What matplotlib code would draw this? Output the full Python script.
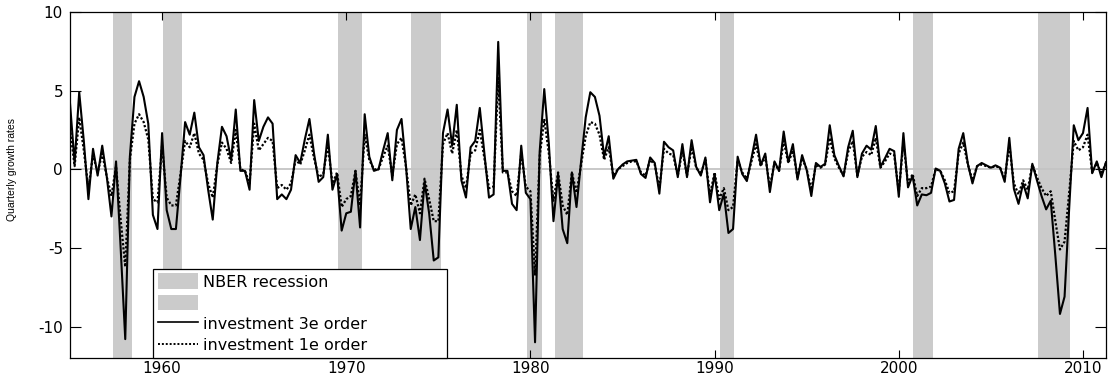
import numpy as np
import matplotlib
matplotlib.use("Agg")
import matplotlib.pyplot as plt
from matplotlib.patches import Patch
from matplotlib.lines import Line2D

plt.rcParams["axes.unicode_minus"] = False

# ---------------- data ----------------
start_year = 1955.0

invest_3e = [
    4.2, 0.4, 4.9, 1.8,        # 1955
    -1.9, 1.3, -0.4, 1.5,      # 1956
    -0.5, -3.0, 0.5, -5.0,     # 1957
    -10.8, 0.8, 4.6, 5.6,      # 1958
    4.6, 2.9, -2.9, -3.8,      # 1959
    2.3, -2.6, -3.8, -3.8,     # 1960
    -0.5, 3.0, 2.2, 3.6,       # 1961
    1.4, 0.9, -1.3, -3.2,      # 1962
    0.4, 2.7, 2.1, 0.6,        # 1963
    3.8, -0.1, -0.1, -1.3,     # 1964
    4.4, 1.8, 2.7, 3.3,        # 1965
    2.9, -1.9, -1.6, -1.9,     # 1966
    -1.3, 0.9, 0.4, 1.9,       # 1967
    3.2, 1.0, -0.8, -0.5,      # 1968
    2.2, -1.3, -0.3, -3.9,     # 1969
    -2.8, -2.7, -0.1, -3.7,    # 1970
    3.5, 0.8, -0.1, 0.0,       # 1971
    1.2, 2.3, -0.7, 2.5,       # 1972
    3.2, 0.1, -3.8, -2.4,      # 1973
    -4.5, -0.8, -2.8, -5.8,    # 1974
    -5.6, 2.3, 3.8, 1.5,       # 1975
    4.1, -0.7, -1.8, 1.4,      # 1976
    1.8, 3.9, 1.0, -1.8,       # 1977
    -1.6, 8.1, -0.1, -0.1,     # 1978
    -2.2, -2.6, 1.5, -1.5,     # 1979
    -1.9, -11.0, 1.1, 5.1,     # 1980
    1.6, -3.3, -0.3, -3.8,     # 1981
    -4.7, -0.2, -2.4, 0.5,     # 1982
    3.3, 4.9, 4.6, 3.4,        # 1983
    0.8, 2.1, -0.6, 0.0,       # 1984
    0.3, 0.5, 0.55, 0.6,       # 1985
    -0.3, -0.55, 0.75, 0.4,    # 1986
    -1.55, 1.75, 1.4, 1.2,     # 1987
    -0.5, 1.6, -0.5, 1.85,     # 1988
    0.15, -0.4, 0.75, -2.1,    # 1989
    -0.3, -2.6, -1.55, -4.05,  # 1990
    -3.8, 0.8, -0.3, -0.75,    # 1991
    0.7, 2.2, 0.25, 1.0,       # 1992
    -1.45, 0.5, -0.1, 2.4,     # 1993
    0.45, 1.6, -0.65, 0.9,     # 1994
    -0.05, -1.7, 0.4, 0.15,    # 1995
    0.35, 2.8, 0.9, 0.2,       # 1996
    -0.45, 1.4, 2.45, -0.5,    # 1997
    1.0, 1.5, 1.25, 2.75,      # 1998
    0.15, 0.7, 1.3, 1.15,      # 1999
    -1.75, 2.3, -1.15, -0.4,   # 2000
    -2.3, -1.6, -1.65, -1.5,   # 2001
    0.05, -0.1, -0.9, -2.05,   # 2002
    -1.95, 1.3, 2.3, 0.35,     # 2003
    -0.9, 0.2, 0.4, 0.25,      # 2004
    0.1, 0.25, 0.1, -0.8,      # 2005
    2.0, -1.25, -2.2, -0.9,    # 2006
    -1.85, 0.35, -0.7, -1.7,   # 2007
    -2.55, -2.0, -5.5, -9.2,   # 2008
    -8.1, -2.5, 2.8, 1.85,     # 2009
    2.3, 3.9, -0.25, 0.5,      # 2010
    -0.5, 0.45,                # 2011
]

invest_1e = [
    2.6, 0.2, 3.3, 1.2,        # 1955
    -1.2, 0.9, -0.2, 1.0,      # 1956
    -0.5, -1.7, 0.2, -3.2,     # 1957
    -6.2, 0.6, 2.9, 3.5,       # 1958
    3.0, 1.9, -1.9, -2.1,      # 1959
    1.5, -1.8, -2.3, -2.3,     # 1960
    -0.3, 1.8, 1.4, 2.3,       # 1961
    1.0, 0.6, -0.9, -1.8,      # 1962
    0.3, 1.7, 1.3, 0.4,        # 1963
    2.5, 0.0, -0.1, -0.9,      # 1964
    2.9, 1.2, 1.6, 2.0,        # 1965
    1.8, -1.2, -1.0, -1.3,     # 1966
    -0.9, 0.6, 0.3, 1.2,       # 1967
    2.2, 0.7, -0.5, -0.3,      # 1968
    1.5, -0.9, -0.2, -2.4,     # 1969
    -1.9, -1.7, -0.1, -2.3,    # 1970
    2.2, 0.6, 0.0, 0.0,        # 1971
    0.8, 1.5, -0.4, 1.6,       # 1972
    2.0, 0.1, -2.3, -1.6,      # 1973
    -2.8, -0.6, -1.9, -3.3,    # 1974
    -3.3, 1.6, 2.3, 1.0,       # 1975
    2.5, -0.4, -1.2, 1.0,      # 1976
    1.2, 2.5, 0.7, -1.2,       # 1977
    -1.1, 5.8, -0.2, -0.2,     # 1978
    -1.4, -1.7, 1.0, -1.1,     # 1979
    -1.4, -6.7, 0.8, 3.2,      # 1980
    1.0, -2.0, -0.2, -2.3,     # 1981
    -2.9, -0.2, -1.5, 0.3,     # 1982
    2.1, 3.0, 2.9, 2.2,        # 1983
    0.6, 1.4, -0.4, 0.0,       # 1984
    0.2, 0.4, 0.5, 0.5,        # 1985
    -0.2, -0.4, 0.6, 0.3,      # 1986
    -1.2, 1.3, 1.0, 0.9,       # 1987
    -0.4, 1.2, -0.4, 1.4,      # 1988
    0.1, -0.3, 0.6, -1.6,      # 1989
    -0.2, -1.9, -1.2, -2.6,    # 1990
    -2.4, 0.6, -0.2, -0.6,     # 1991
    0.5, 1.6, 0.2, 0.8,        # 1992
    -1.1, 0.4, -0.1, 1.8,      # 1993
    0.4, 1.2, -0.5, 0.7,       # 1994
    0.0, -1.3, 0.3, 0.1,       # 1995
    0.3, 2.0, 0.7, 0.1,        # 1996
    -0.4, 1.1, 1.8, -0.4,      # 1997
    0.8, 1.1, 0.9, 2.0,        # 1998
    0.1, 0.5, 1.0, 0.9,        # 1999
    -1.4, 1.7, -0.9, -0.3,     # 2000
    -1.7, -1.2, -1.2, -1.1,    # 2001
    0.0, -0.1, -0.7, -1.5,     # 2002
    -1.4, 1.0, 1.7, 0.3,       # 2003
    -0.7, 0.2, 0.3, 0.2,       # 2004
    0.1, 0.2, 0.1, -0.6,       # 2005
    1.5, -0.9, -1.6, -0.7,     # 2006
    -1.3, 0.3, -0.5, -1.2,     # 2007
    -1.7, -1.4, -3.3, -5.1,    # 2008
    -4.6, -1.5, 1.8, 1.2,      # 2009
    1.4, 2.2, -0.2, 0.4,       # 2010
    -0.3, 0.4,                 # 2011
]

recession_start = [1957.32, 1960.07, 1969.57, 1973.51, 1979.83, 1981.32, 1990.29, 2000.79, 2007.57]
recession_end   = [1958.37, 1961.10, 1970.84, 1975.13, 1980.61, 1982.84, 1991.07, 2001.84, 2009.29]

x_ticks = [1960, 1970, 1980, 1990, 2000, 2010]
y_ticks = [-10, -5, 0, 5, 10]

legend_labels = ["NBER recession", "", "investment 3e order", "investment 1e order"]
y_label = "Quarterly growth rates"

# ---------------- plot ----------------
dates = start_year + np.arange(len(invest_3e)) / 4.0

W, H = 1112, 376
fig = plt.figure(figsize=(W / 100, H / 100), dpi=100)
ax = fig.add_axes([70 / W, 1 - 358 / H, 1036 / W, 346 / H])

band_color = "#cbcbcb"
for s, e in zip(recession_start, recession_end):
    ax.axvspan(s, e, color=band_color, lw=0, zorder=1)

ax.axhline(0, color="#c4c4c4", lw=1.3, zorder=1.5)

ax.plot(dates, invest_1e, color="black", lw=1.6, linestyle=(0, (1.0, 0.9)), zorder=3)
ax.plot(dates, invest_3e, color="black", lw=1.5, linestyle="-", zorder=4)

ax.set_xlim(dates[0], dates[-1])
ax.set_ylim(-12, 10)
ax.set_xticks(x_ticks)
ax.set_yticks(y_ticks)

tick_font = "DejaVu Sans"
for lab in ax.get_xticklabels() + ax.get_yticklabels():
    lab.set_fontfamily(tick_font)
    lab.set_fontsize(11)

ax.tick_params(axis="x", direction="in", top=True, bottom=True, length=6, width=0.8, pad=2)
ax.tick_params(axis="y", direction="in", left=True, right=True, length=8, width=0.8, pad=5)
for sp in ax.spines.values():
    sp.set_linewidth(0.9)
    sp.set_color("black")

fig.text(12.5 / W, 1 - 169 / H, y_label, rotation=90, ha="center", va="center",
         fontsize=7.5, family=["Liberation Sans Narrow", "Liberation Sans", "DejaVu Sans"])

handles = [
    Patch(facecolor=band_color, edgecolor="none"),
    Patch(facecolor=band_color, edgecolor="none"),
    Line2D([], [], color="black", lw=1.2, linestyle="-"),
    Line2D([], [], color="black", lw=1.4, linestyle=(0, (1.0, 1.0))),
]
leg = ax.legend(handles, legend_labels, loc="lower left",
                bbox_to_anchor=((153 - 70) / 1036, 0.0, 294 / 1036, 0.27),
                mode="expand", borderaxespad=0.0, fancybox=False, framealpha=1,
                edgecolor="black", prop={"family": "DejaVu Sans", "size": 11.5},
                handlelength=2.5, handleheight=1.15, handletextpad=0.3,
                labelspacing=0.3, borderpad=0.3)
leg.get_frame().set_linewidth(0.9)
leg.set_zorder(10)

fig.savefig("out.png", dpi=100)
